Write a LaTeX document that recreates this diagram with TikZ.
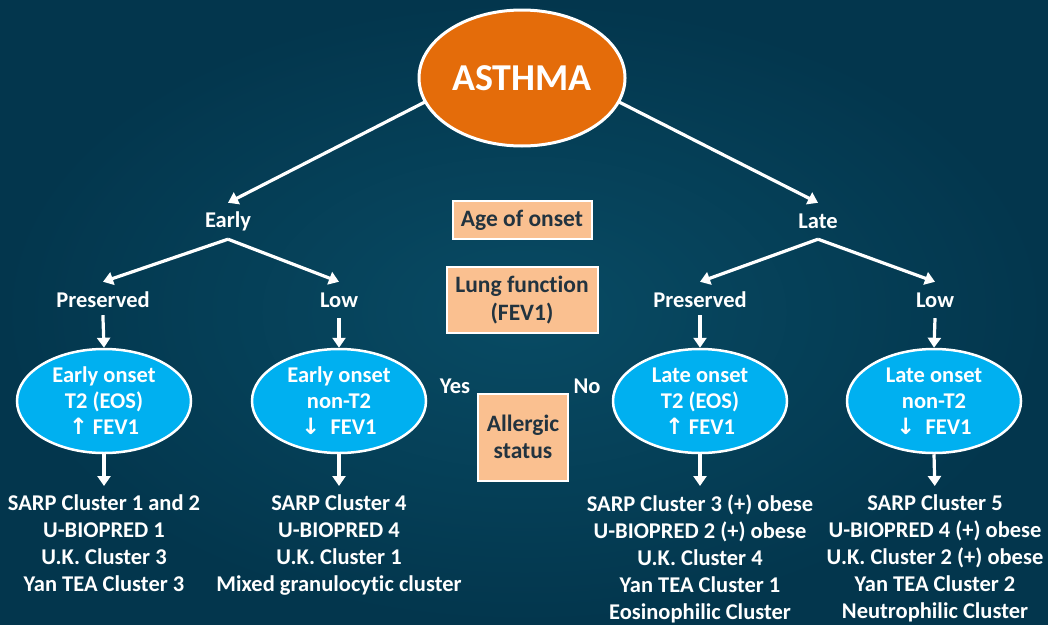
\documentclass[tikz,border=0pt]{standalone}
\usepackage{fontspec}
\setmainfont{Carlito}[Ligatures=NoCommon]
\newfontfamily\symf{DejaVu Sans}
\usetikzlibrary{arrows.meta,shapes.geometric}
\definecolor{bgin}{HTML}{084B64}
\definecolor{bgout}{HTML}{03364D}
\definecolor{orangefill}{HTML}{E46C0A}
\definecolor{cyanfill}{HTML}{00B0F0}
\definecolor{peach}{HTML}{FAC090}
\definecolor{darktext}{HTML}{22333F}
\newcommand{\upa}{{\symf\bfseries ↑}}
\newcommand{\dna}{{\symf\bfseries ↓}}
\begin{document}
\begin{tikzpicture}[x=1pt,y=-1pt,
  arr/.style={draw=white, line width=3.2pt, -{Triangle[length=10pt,width=13pt]}},
  lbl/.style={text=white, font=\bfseries\fontsize{22.5}{26}\selectfont, inner sep=0pt, minimum height=36pt},
  cell/.style={ellipse, draw=white, line width=2.5pt, fill=cyanfill, text=white,
    minimum width=174pt, minimum height=104pt, inner sep=0pt, align=center,
    font=\bfseries\fontsize{22.5}{26}\selectfont},
  crit/.style={rectangle, draw=white, line width=2pt, fill=peach, text=darktext,
    align=center, inner sep=0pt, font=\bfseries\fontsize{23.5}{27.5}\selectfont},
  outtxt/.style={text=white, align=center, anchor=north, inner sep=0pt,
    font=\bfseries\fontsize{22.5}{27}\selectfont}
]
\shade[inner color=bgin, outer color=bgout] (0,0) rectangle (1048,624);
\useasboundingbox (0,0) rectangle (1048,624);

% root
\node[ellipse, fill=orangefill, draw=white, line width=3pt, minimum width=206pt,
  minimum height=136pt, inner sep=0pt, text=white,
  font=\bfseries\fontsize{38}{42}\selectfont] (asthma) at (522,78) {ASTHMA};

% first level labels
\node[lbl] (early) at (228,221) {Early};
\node[lbl] (late) at (818,221) {Late};

% criteria boxes
\node[crit, minimum width=139pt, minimum height=38pt] (age) at (522,220) {Age of onset};
\node[crit, minimum width=151pt, minimum height=66pt] (lung) at (522,300) {Lung function\\(FEV1)};
\node[crit, minimum width=90pt, minimum height=87pt] (allergic) at (523,437) {Allergic\\status};

% second level labels
\node[lbl] (pres1) at (103,300) {Preserved};
\node[lbl] (low1) at (339,300) {Low};
\node[lbl] (pres2) at (700,300) {Preserved};
\node[lbl] (low2) at (935,300) {Low};

% yes / no
\node[lbl] (yes) at (455,386) {Yes};
\node[lbl] (no) at (587,386) {No};

% phenotype ellipses
\node[cell] (c1) at (104,401) {Early onset\\T2 (EOS)\\\upa\ FEV1};
\node[cell] (c2) at (339,401) {Early onset\\non-T2\\\dna\ \ FEV1};
\node[cell] (c3) at (700,401) {Late onset\\T2 (EOS)\\\upa\ FEV1};
\node[cell] (c4) at (934,401) {Late onset\\non-T2\\\dna\ \ FEV1};

% cluster lists
\node[outtxt] (o1) at (104,495) {SARP Cluster 1 and 2\\U-BIOPRED 1\\U.K. Cluster 3\\Yan TEA Cluster 3};
\node[outtxt] (o2) at (339,495) {SARP Cluster 4\\U-BIOPRED 4\\U.K. Cluster 1\\Mixed granulocytic cluster};
\node[outtxt] (o3) at (700,495) {SARP Cluster 3 (+) obese\\U-BIOPRED 2 (+) obese\\U.K. Cluster 4\\Yan TEA Cluster 1\\Eosinophilic Cluster};
\node[outtxt] (o4) at (935,495) {SARP Cluster 5\\U-BIOPRED 4 (+) obese\\U.K. Cluster 2 (+) obese\\Yan TEA Cluster 2\\Neutrophilic Cluster};

% connectors
\draw[arr, shorten <=-1pt] (asthma.194) -- (early.north);
\draw[arr, shorten <=-1pt] (asthma.-14) -- (late.north);
\draw[arr] (early.south) -- (pres1.north);
\draw[arr] (early.south) -- (low1.north);
\draw[arr] (late.south) -- (pres2.north);
\draw[arr] (late.south) -- (low2.north);
\draw[arr, shorten <=-3pt] (pres1.south) -- (c1.north);
\draw[arr] (low1.south) -- (c2.north);
\draw[arr, shorten <=-3pt] (pres2.south) -- (c3.north);
\draw[arr] (low2.south) -- (c4.north);
\draw[arr, shorten >=9pt] (c1.south) -- (o1.north);
\draw[arr, shorten >=9pt] (c2.south) -- (o2.north);
\draw[arr, shorten >=9pt] (c3.south) -- (o3.north);
\draw[arr, shorten >=9pt] (c4.south) -- (o4.north);
\end{tikzpicture}
\end{document}
